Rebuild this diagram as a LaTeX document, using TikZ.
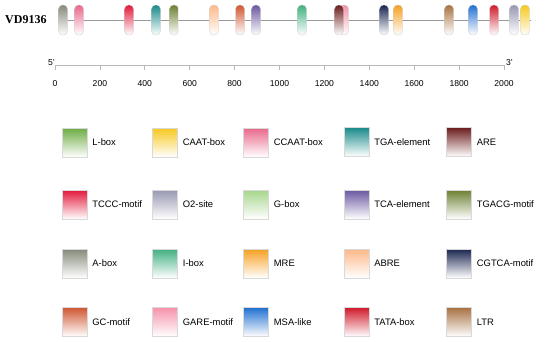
\documentclass[tikz,border=0pt]{standalone}
\usepackage{fontspec}
\setmainfont{Liberation Sans}
\newfontfamily\titlefont{Liberation Serif}
\usepackage{tikz}
\usetikzlibrary{positioning, backgrounds}
\usepackage{xcolor}

\definecolor{lboxc}{RGB}{108,172,66}
\definecolor{caatc}{RGB}{246,200,30}
\definecolor{ccaatc}{RGB}{232,104,138}
\definecolor{tgac}{RGB}{26,138,138}
\definecolor{arec}{RGB}{108,28,28}
\definecolor{tcccc}{RGB}{226,24,58}
\definecolor{otwoc}{RGB}{152,152,178}
\definecolor{gboxc}{RGB}{166,214,140}
\definecolor{tcac}{RGB}{106,86,160}
\definecolor{tgacgc}{RGB}{108,128,50}
\definecolor{aboxc}{RGB}{132,138,122}
\definecolor{iboxc}{RGB}{64,176,128}
\definecolor{mrec}{RGB}{246,160,34}
\definecolor{abrec}{RGB}{253,184,136}
\definecolor{cgtcac}{RGB}{26,38,80}
\definecolor{gcc}{RGB}{208,86,50}
\definecolor{garec}{RGB}{245,146,170}
\definecolor{msac}{RGB}{34,112,208}
\definecolor{tatac}{RGB}{208,26,42}
\definecolor{ltrc}{RGB}{168,114,66}

\begin{document}
\begin{tikzpicture}[
        x=1pt, y=-1pt,
        pill/.style={rectangle, rounded corners=4pt, draw=gray!35, thin, top color=#1, middle color=#1!35, bottom color=white, minimum width=9pt, minimum height=30pt, inner sep=0pt},
        swatch/.style={rectangle, draw=gray!30, thin, top color=#1, middle color=#1!45, bottom color=white, minimum width=25pt, minimum height=29pt, inner sep=0pt},
        legend_label/.style={anchor=west, inner sep=0pt, font=\fontsize{9.4}{10}\selectfont},
        tick_label/.style={font=\fontsize{8.6}{9}\selectfont, inner sep=0pt}
    ]
        \useasboundingbox[fill=white] (0,0) rectangle (550,341);

        % Sequence and its elements
        \node[font=\titlefont\bfseries\fontsize{12}{13}\selectfont, anchor=west, inner sep=0pt] (seqname) at (5,20) {VD9136};
        \coordinate (seqstart) at (63,20);
        \coordinate (seqend) at (531,20);
        \draw[gray!80, thick] (seqstart) -- (seqend);

        \node[pill=aboxc] (p1) at (63,20) {};
        \node[pill=ccaatc] (p2) at (79,20) {};
        \node[pill=tcccc] (p3) at (129,20) {};
        \node[pill=tgac] (p4) at (156,20) {};
        \node[pill=tgacgc] (p5) at (174,20) {};
        \node[pill=abrec] (p6) at (214,20) {};
        \node[pill=gcc] (p7) at (240,20) {};
        \node[pill=tcac] (p8) at (256,20) {};
        \node[pill=iboxc] (p9) at (302,20) {};
        \node[pill=garec] (p10) at (344,20) {};
        \node[pill=arec] (p11) at (339,20) {};
        \node[pill=cgtcac] (p12) at (384,20) {};
        \node[pill=mrec] (p13) at (398,20) {};
        \node[pill=ltrc] (p14) at (449,20) {};
        \node[pill=msac] (p15) at (473,20) {};
        \node[pill=tatac] (p16) at (494,20) {};
        \node[pill=otwoc] (p17) at (514,20) {};
        \node[pill=caatc] (p18) at (525,20) {};

        % Scale bar
        \coordinate (scalestart) at (55,65);
        \coordinate (scaleend) at (504,65);
        \draw[gray!55, thick] (scalestart) -- (scaleend);
        \foreach \v [evaluate=\v as \xx using 55+\v*0.2245] in {0,200,...,2000} {
            \draw[gray!55, thick] (\xx,65) -- (\xx,69.5);
            \node[tick_label] at (\xx,84) {\v};
        }
        \node[tick_label, anchor=east] (five) at (scalestart) [yshift=2pt] {5'};
        \node[tick_label, anchor=west] (three) at (scaleend) [yshift=2pt, xshift=2pt] {3'};

        % Legend
        \node[swatch=lboxc] (lbox) at (74.5,142.5) {};
        \node[swatch=caatc] (caat) at (165,142.5) {};
        \node[swatch=ccaatc] (ccaat) at (256,142.5) {};
        \node[swatch=tgac] (tga) at (356.5,142) {};
        \node[swatch=arec] (are) at (459,142) {};

        \node[swatch=tcccc] (tccc) at (74.5,204.5) {};
        \node[swatch=otwoc] (otwo) at (165,204.5) {};
        \node[swatch=gboxc] (gbox) at (256,204.5) {};
        \node[swatch=tcac] (tca) at (356.5,204.5) {};
        \node[swatch=tgacgc] (tgacg) at (459,204.5) {};

        \node[swatch=aboxc] (abox) at (74.5,263.5) {};
        \node[swatch=iboxc] (ibox) at (165,263.5) {};
        \node[swatch=mrec] (mre) at (256,263.5) {};
        \node[swatch=abrec] (abre) at (356.5,263.5) {};
        \node[swatch=cgtcac] (cgtca) at (459,263.5) {};

        \node[swatch=gcc] (gc) at (74.5,322) {};
        \node[swatch=garec] (gare) at (165,322) {};
        \node[swatch=msac] (msa) at (256,322) {};
        \node[swatch=tatac] (tata) at (356.5,322) {};
        \node[swatch=ltrc] (ltr) at (459,322) {};

        % Legend labels
        \node[legend_label, right=5pt of lbox] {L-box};
        \node[legend_label, right=5pt of caat] {CAAT-box};
        \node[legend_label, right=5pt of ccaat] {CCAAT-box};
        \node[legend_label, right=5pt of tga] {TGA-element};
        \node[legend_label, right=5pt of are] {ARE};
        \node[legend_label, right=5pt of tccc] {TCCC-motif};
        \node[legend_label, right=5pt of otwo] {O2-site};
        \node[legend_label, right=5pt of gbox] {G-box};
        \node[legend_label, right=5pt of tca] {TCA-element};
        \node[legend_label, right=5pt of tgacg] {TGACG-motif};
        \node[legend_label, right=5pt of abox] {A-box};
        \node[legend_label, right=5pt of ibox] {I-box};
        \node[legend_label, right=5pt of mre] {MRE};
        \node[legend_label, right=5pt of abre] {ABRE};
        \node[legend_label, right=5pt of cgtca] {CGTCA-motif};
        \node[legend_label, right=5pt of gc] {GC-motif};
        \node[legend_label, right=5pt of gare] {GARE-motif};
        \node[legend_label, right=5pt of msa] {MSA-like};
        \node[legend_label, right=5pt of tata] {TATA-box};
        \node[legend_label, right=5pt of ltr] {LTR};
    \end{tikzpicture}
\end{document}
